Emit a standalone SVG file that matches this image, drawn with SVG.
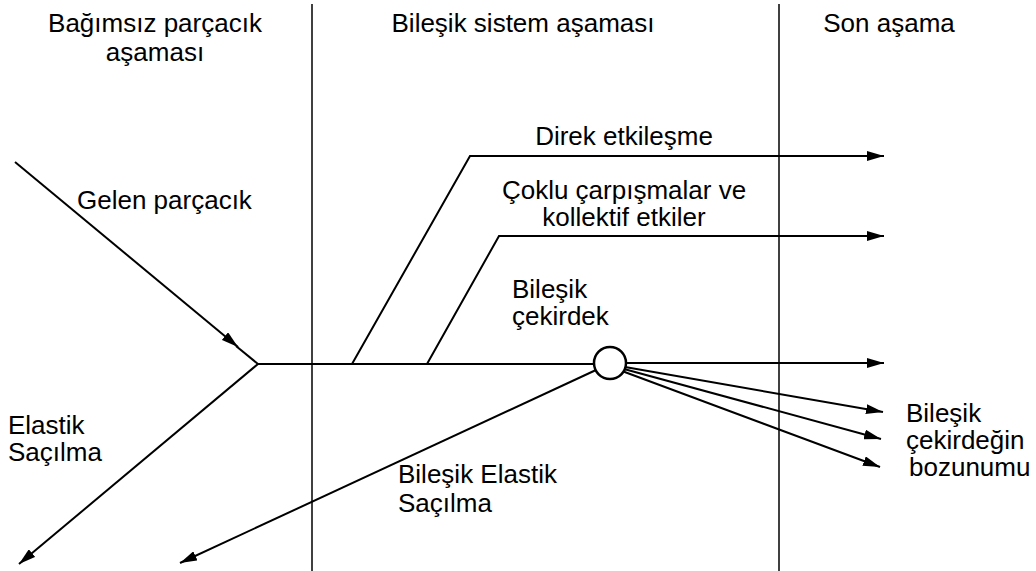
<svg xmlns="http://www.w3.org/2000/svg" width="1036" height="571" viewBox="0 0 1036 571">
<style>
text{font-family:"Liberation Sans",Arial,sans-serif;font-size:26px;fill:#000}
.c{text-anchor:middle}
.ln{stroke:#000;stroke-width:2;fill:none}
.dv{stroke:#000;stroke-width:1.5;fill:none}
</style>
<defs>
<marker id="ahm" viewBox="0 0 17 10" refX="17" refY="5" markerWidth="17" markerHeight="10" markerUnits="userSpaceOnUse" orient="auto">
<path d="M0,0 L17,5 L0,10 z" fill="#000"/>
</marker>
</defs>
<rect width="1036" height="571" fill="#fff"/>
<g id="dividers">
<line class="dv" x1="312" y1="4" x2="312" y2="571"/>
<line class="dv" x1="779" y1="4" x2="779" y2="571"/>
</g>
<g id="headers">
<text class="c" x="155" y="32">Bağımsız parçacık</text>
<text class="c" x="155" y="61">aşaması</text>
<text class="c" x="523" y="32">Bileşik sistem aşaması</text>
<text class="c" x="889" y="32">Son aşama</text>
</g>
<g id="connectors">
<line class="ln" x1="15" y1="162" x2="238" y2="347" marker-end="url(#ahm)"/>
<line class="ln" x1="236" y1="346" x2="258" y2="364"/>
<polyline class="ln" points="258,364 594,364"/>
<line class="ln" x1="258" y1="364" x2="19" y2="564" marker-end="url(#ahm)"/>
<polyline class="ln" points="352,364 470,156 884,156" marker-end="url(#ahm)"/>
<polyline class="ln" points="427,364 499,236 884,236" marker-end="url(#ahm)"/>
<line class="ln" x1="626" y1="363" x2="884" y2="363" marker-end="url(#ahm)"/>
<line class="ln" x1="625" y1="367" x2="883" y2="412" marker-end="url(#ahm)"/>
<line class="ln" x1="624" y1="369" x2="881" y2="439" marker-end="url(#ahm)"/>
<line class="ln" x1="622" y1="371" x2="880" y2="467" marker-end="url(#ahm)"/>
<line class="ln" x1="596" y1="370" x2="180" y2="563" marker-end="url(#ahm)"/>
</g>
<g id="compound-nucleus">
<circle cx="610" cy="363" r="16" fill="#fff" stroke="#000" stroke-width="2.5"/>
<text x="512" y="298">Bileşik</text>
<text x="512" y="325">çekirdek</text>
</g>
<g id="labels">
<text x="77" y="209">Gelen parçacık</text>
<text class="c" x="624" y="145">Direk etkileşme</text>
<text class="c" x="624" y="199">Çoklu çarpışmalar ve</text>
<text class="c" x="624" y="226">kollektif etkiler</text>
<text x="8" y="434">Elastik</text>
<text x="8" y="461">Saçılma</text>
<text x="398" y="483">Bileşik Elastik</text>
<text x="398" y="512">Saçılma</text>
<text x="906" y="422">Bileşik</text>
<text x="906" y="449">çekirdeğin</text>
<text x="909" y="476">bozunumu</text>
</g>
</svg>
